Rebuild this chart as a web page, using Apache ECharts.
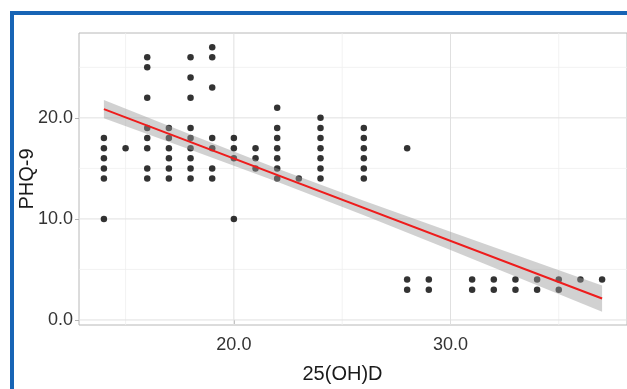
<!DOCTYPE html>
<html>
<head>
<meta charset="utf-8">
<script src="https://cdn.jsdelivr.net/npm/echarts@6/dist/echarts.min.js"></script>
<style>
  html, body { margin: 0; padding: 0; background: #fff; }
  #frame {
    position: absolute; left: 10px; top: 11px; width: 700px; height: 500px;
    border-left: 4px solid #1764b5; border-top: 4px solid #1764b5;
  }
  #chart { position: absolute; left: 0; top: 0; width: 627px; height: 389px; }
</style>
</head>
<body>
<div id="frame"></div>
<div id="chart"></div>
<script>
// 25(OH)D levels and the PHQ-9 scores seen at each level
const vitDLevels = [14, 15, 16, 17, 18, 19, 20, 21, 22, 23, 24, 26, 28, 29, 31, 32, 33, 34, 35, 36, 37]
const phqScores = [
  [18, 17, 16, 15, 14, 10],
  [17],
  [26, 25, 22, 19, 18, 17, 15, 14],
  [19, 18, 17, 16, 15, 14],
  [26, 24, 22, 19, 18, 17, 16, 15, 14],
  [27, 26, 23, 18, 17, 15, 14],
  [18, 17, 16, 10],
  [17, 16, 15],
  [21, 19, 18, 17, 16, 15, 14],
  [14],
  [20, 19, 18, 17, 16, 15, 14],
  [19, 18, 17, 16, 15, 14],
  [17, 4, 3],
  [4, 3],
  [4, 3],
  [4, 3],
  [4, 3],
  [4, 3],
  [4, 3],
  [4],
  [4],
]

// linear fit and its 95% band
const fitX = [14, 37]
const fitY = [20.86, 2.12]
const bandX = [14, 18, 22, 26, 30, 34, 37]
const bandLow = [19.96, 16.85, 13.68, 10.36, 6.92, 3.44, 0.82]
const bandHigh = [21.76, 18.35, 15.0, 11.8, 8.72, 5.68, 3.42]

const xTicks = [20, 30]
const xMinorBreaks = [15, 25, 35]
const yTicks = [0, 10, 20]
const yMinorBreaks = [5, 15, 25]

const points = []
vitDLevels.forEach((x, i) => phqScores[i].forEach((y) => points.push([x, y])))

const gridRows = [
  ...xMinorBreaks.map((v) => ['x', v, 0]),
  ...yMinorBreaks.map((v) => ['y', v, 0]),
  ...xTicks.map((v) => ['x', v, 1]),
  ...yTicks.map((v) => ['y', v, 1]),
]

const myChart = echarts.init(document.getElementById('chart'))
myChart.setOption({
  animation: false,
  grid: {
    left: 79,
    right: -4,
    top: 33,
    bottom: 63.5,
    show: true,
    borderColor: '#b8b8b8',
    borderWidth: 1,
    backgroundColor: 'transparent',
  },
  xAxis: {
    type: 'value',
    min: 12.85,
    max: 38.15,
    name: '25(OH)D',
    nameLocation: 'middle',
    nameGap: 39,
    nameMoveOverlap: false,
    nameTextStyle: {
      fontFamily: 'Liberation Sans',
      fontSize: 20,
      color: '#1a1a1a',
      padding: [0, 21, 0, 0],
    },
    axisLine: { show: false },
    splitLine: { show: false },
    axisTick: {
      show: true,
      customValues: xTicks,
      length: 4,
      lineStyle: { color: '#b3b3b3' },
    },
    axisLabel: {
      customValues: xTicks,
      formatter: (v) => v.toFixed(1),
      fontFamily: 'Liberation Sans',
      fontSize: 18,
      color: '#333',
      margin: 11,
    },
  },
  yAxis: {
    type: 'value',
    min: -0.5,
    max: 28.4,
    name: 'PHQ-9',
    nameLocation: 'middle',
    nameGap: 42,
    nameMoveOverlap: false,
    nameTextStyle: {
      fontFamily: 'Liberation Sans',
      fontSize: 20,
      color: '#1a1a1a',
    },
    axisLine: { show: false },
    splitLine: { show: false },
    axisTick: {
      show: true,
      customValues: yTicks,
      length: 4,
      lineStyle: { color: '#b3b3b3' },
    },
    axisLabel: {
      customValues: yTicks,
      formatter: (v) => v.toFixed(1),
      fontFamily: 'Liberation Sans',
      fontSize: 18,
      color: '#333',
      margin: 6,
    },
  },
  series: [
    {
      // panel grid lines, drawn under the points
      type: 'custom',
      z: 1,
      silent: true,
      data: gridRows,
      renderItem: (params, api) => {
        const row = gridRows[params.dataIndex]
        const cs = params.coordSys
        const major = row[2] === 1
        let shape
        if (row[0] === 'x') {
          const px = api.coord([row[1], 0])[0]
          shape = { x1: px, y1: cs.y, x2: px, y2: cs.y + cs.height }
        } else {
          const py = api.coord([20, row[1]])[1]
          shape = { x1: cs.x, y1: py, x2: cs.x + cs.width, y2: py }
        }
        return {
          type: 'line',
          shape,
          style: { stroke: major ? '#e0e0e0' : '#efefef', lineWidth: major ? 1 : 0.8 },
        }
      },
    },
    {
      type: 'scatter',
      data: points,
      symbolSize: 6.5,
      itemStyle: { color: '#000' },
      z: 5,
    },
    {
      type: 'custom',
      z: 6,
      silent: true,
      data: bandX,
      renderItem: (params, api) => {
        if (params.dataIndex !== 0) return null
        const upper = bandX.map((x, i) => api.coord([x, bandHigh[i]]))
        const lower = bandX.map((x, i) => api.coord([x, bandLow[i]])).reverse()
        return {
          type: 'polygon',
          shape: { points: upper.concat(lower) },
          style: { fill: 'rgba(153,153,153,0.45)', stroke: 'none' },
        }
      },
    },
    {
      type: 'line',
      z: 7,
      data: fitX.map((x, i) => [x, fitY[i]]),
      symbol: 'none',
      lineStyle: { color: '#ee1c1c', width: 2 },
    },
  ],
})
</script>
</body>
</html>
